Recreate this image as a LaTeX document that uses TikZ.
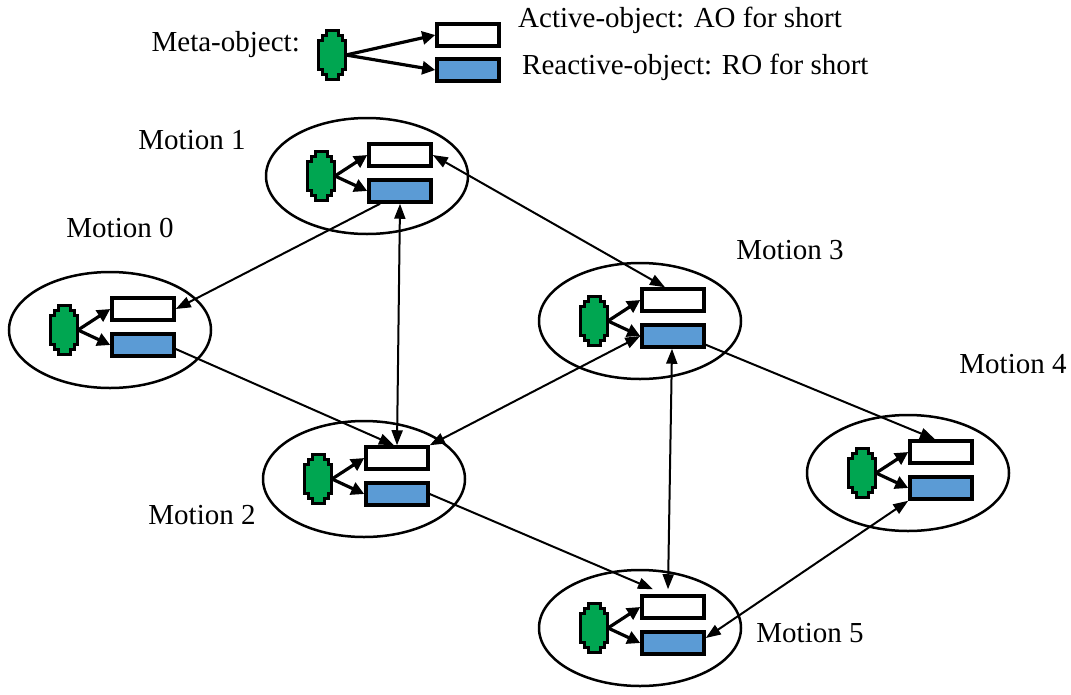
\documentclass[tikz,border=0pt]{standalone}
\usepackage{fontspec}
\setmainfont{Liberation Serif}
\usetikzlibrary{arrows.meta,calc,shapes.geometric}
\definecolor{mgreen}{RGB}{0,166,81}
\definecolor{rblue}{RGB}{91,155,213}
\tikzset{
 ell/.style={ellipse, draw, line width=2.5pt, minimum width=202pt, minimum height=116pt, inner sep=0pt},
 aobox/.style={rectangle, draw, line width=3.5pt, fill=white, minimum width=62pt, minimum height=22pt, inner sep=0pt},
 robox/.style={aobox, fill=rblue},
 inarr/.style={line width=3.2pt, -{Triangle[length=13pt,width=13pt]}},
 link/.style={line width=2pt, -{Triangle[length=15pt,width=11pt]}},
 dlink/.style={line width=2pt, {Triangle[length=15pt,width=11pt]}-{Triangle[length=15pt,width=11pt]}},
 lbl/.style={font=\fontsize{29}{34}\selectfont, inner sep=0pt},
 metashape/.style={fill=mgreen, draw=black, line width=3pt, line join=miter}
}
\newcommand\metaobj[3]{% name, x, y
  \draw[metashape, shift={(#2,#3)}] (-6,-24.5) -- (6,-24.5) -- (6,-19.5) -- (10,-19.5) -- (10,-14.5) -- (13.5,-14.5) -- (13.5,14.5) -- (10,14.5) -- (10,19.5) -- (6,19.5) -- (6,24.5) -- (-6,24.5) -- (-6,19.5) -- (-10,19.5) -- (-10,14.5) -- (-13.5,14.5) -- (-13.5,-14.5) -- (-10,-14.5) -- (-10,-19.5) -- (-6,-19.5) -- cycle;
  \coordinate (#1) at (#2+14,#3);
}
\newcommand\motionunit[3]{% id, gx, gy
  \node[ell] (e#1) at (#2+46,#3) {};
  \node[aobox] (w#1) at (#2+79,#3-21) {};
  \node[robox] (b#1) at (#2+79,#3+15) {};
  \metaobj{g#1}{#2}{#3}
  \draw[inarr] (g#1) -- (w#1.west);
  \draw[inarr] (g#1) -- (b#1.west);
}
\begin{document}
\begin{tikzpicture}[x=1pt,y=-1pt]
\useasboundingbox (0,0) rectangle (1071,694);
% legend
\metaobj{gl}{332}{55}
\node[aobox] (wl) at (468,35) {};
\node[robox] (bl) at (468,70) {};
\draw[inarr] (gl) -- (wl.west);
\draw[inarr] (gl) -- (bl.west);
\node[lbl, anchor=east] (tmeta) at (300,45) {Meta-object:};
\node[lbl, anchor=west] (tao) at (518,20) {Active-object: AO for short};
\node[lbl, anchor=west] (tro) at (522,67) {Reactive-object: RO for short};
% motions
\motionunit{0}{64}{330}
\motionunit{1}{321}{176}
\motionunit{2}{318}{479}
\motionunit{3}{594}{321}
\motionunit{4}{862}{473}
\motionunit{5}{594}{628}
% labels
\node[lbl] (l0) at (120,228) {Motion 0};
\node[lbl] (l1) at (192,140) {Motion 1};
\node[lbl] (l2) at (202,515) {Motion 2};
\node[lbl] (l3) at (790,250) {Motion 3};
\node[lbl] (l4) at (1013,364) {Motion 4};
\node[lbl] (l5) at (810,633) {Motion 5};
% connectors
\draw[link] ($(b1.south)+(-20,0)$) -- (w0.east);
\draw[dlink] (b1.south) -- (w2.north);
\draw[dlink] (w1.east) -- ($(w3.north)+(-8,0)$);
\draw[link] ($(b0.east)+(0,4)$) -- ($(w2.north)+(-3,0)$);
\draw[dlink] (w2.north east) -- (b3.west);
\draw[link] (b2.east) -- ($(w5.north)+(-20,-5)$);
\draw[dlink] ($(b3.south)+(-1,0)$) -- ($(w5.north)+(-5,-5)$);
\draw[link] ($(b3.south east)+(0,-4)$) -- ($(w4.north)+(-6,0)$);
\draw[dlink] ($(b5.east)+(0,-5)$) -- (b4.south west);
\end{tikzpicture}
\end{document}
